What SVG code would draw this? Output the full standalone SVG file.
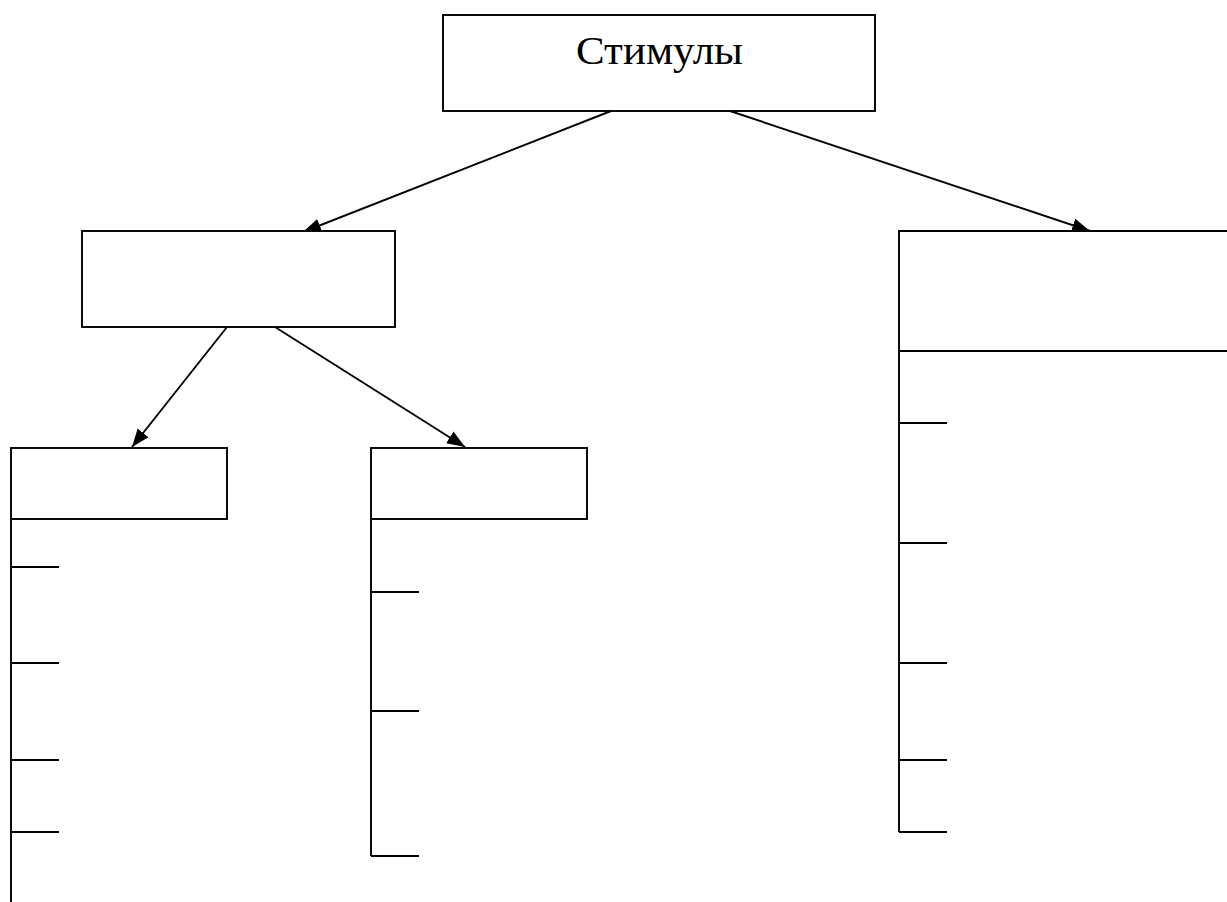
<svg xmlns="http://www.w3.org/2000/svg" width="1227" height="902" viewBox="0 0 1227 902">
<style>
.box{fill:#fff;stroke:#000;stroke-width:1.9}
.ln{fill:none;stroke:#000;stroke-width:1.9}
.lbl{font-family:"Liberation Serif","Times New Roman",serif;font-size:40px;fill:#000}
</style>
<defs>
<marker id="ah" markerUnits="userSpaceOnUse" markerWidth="20" markerHeight="16" refX="18" refY="7" orient="auto">
<path d="M0,0 L18,7 L0,14 Z" fill="#000"/>
</marker>
</defs>
<rect width="1227" height="902" fill="#fff"/>
<g id="connectors">
<line class="ln" x1="611" y1="111" x2="303" y2="232" marker-end="url(#ah)"/>
<line class="ln" x1="730" y1="111" x2="1090" y2="231" marker-end="url(#ah)"/>
<line class="ln" x1="227" y1="327" x2="132" y2="447" marker-end="url(#ah)"/>
<line class="ln" x1="275" y1="327" x2="465" y2="447" marker-end="url(#ah)"/>
</g>
<g id="node-stimuly">
<rect class="box" x="443" y="15" width="432" height="96"/>
<text class="lbl" x="576" y="64" textLength="167" lengthAdjust="spacingAndGlyphs">Стимулы</text>
</g>
<g id="node-b">
<rect class="box" x="82" y="231" width="313" height="96"/>
</g>
<g id="node-c">
<rect class="box" x="11" y="448" width="216" height="71"/>
<path class="ln" d="M11,519 V902 M11,567 H59 M11,663 H59 M11,760 H59 M11,832 H59"/>
</g>
<g id="node-d">
<rect class="box" x="371" y="448" width="216" height="71"/>
<path class="ln" d="M371,519 V856 M371,592 H419 M371,711 H419 M371,856 H419"/>
</g>
<g id="node-e">
<path class="ln" d="M1227,231 H899 V832 M899,351 H1227 M899,423 H947 M899,543 H947 M899,663 H947 M899,760 H947 M899,832 H947"/>
</g>
</svg>
